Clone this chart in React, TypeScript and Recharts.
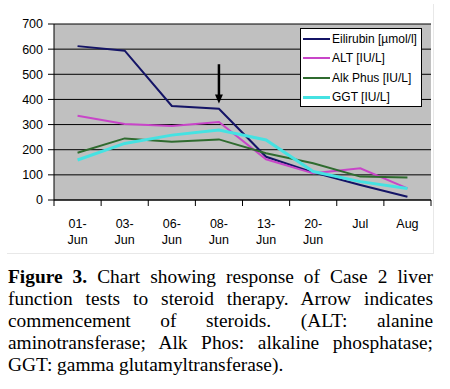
import { LineChart, Line, XAxis, YAxis, CartesianGrid, ReferenceLine } from 'recharts'

const dates = ['01-Jun', '03-Jun', '06-Jun', '08-Jun', '13-Jun', '20-Jun', 'Jul', 'Aug']
const bilirubin = [612, 594, 374, 363, 172, 110, 60, 13]
const alt = [335, 302, 294, 310, 162, 106, 126, 46]
const alkPhos = [188, 245, 232, 241, 186, 146, 93, 89]
const ggt = [159, 225, 258, 278, 239, 113, 73, 46]
const yTicks = [0, 100, 200, 300, 400, 500, 600, 700]

const series = [
  { key: 'bilirubin', name: 'Eilirubin [µmol/l]', color: '#141466', width: 2 },
  { key: 'alt', name: 'ALT [IU/L]', color: '#c845c8', width: 2 },
  { key: 'alkPhos', name: 'Alk Phus [IU/L]', color: '#2f6b2f', width: 2 },
  { key: 'ggt', name: 'GGT [IU/L]', color: '#45e2e2', width: 3 },
]

const data = dates.map((d, i) => ({
  date: d,
  bilirubin: bilirubin[i],
  alt: alt[i],
  alkPhos: alkPhos[i],
  ggt: ggt[i],
}))

const CHART_W = 440
const PLOT_LEFT = 54
const PLOT_RIGHT = 431
const band = (PLOT_RIGHT - PLOT_LEFT) / dates.length

function DateTick({ x, y, payload, index }: any) {
  const parts = String(payload.value).split('-')
  const lines = parts.length > 1 ? [parts[0] + '-', parts[1]] : [parts[0]]
  return (
    <g>
      <line x1={x - band / 2} y1={y} x2={x - band / 2} y2={y + 6} stroke="#000" />
      {index === dates.length - 1 && (
        <line x1={x + band / 2} y1={y} x2={x + band / 2} y2={y + 6} stroke="#000" />
      )}
      <text x={x} y={y + 28} textAnchor="middle" fontSize={12.5} fill="#000" fontFamily="Liberation Sans, Arial">
        {lines.map((l, i) => (
          <tspan key={i} x={x} dy={i === 0 ? 0 : 16}>{l}</tspan>
        ))}
      </text>
    </g>
  )
}

function ArrowShape(props: any) {
  const { x1, y1, x2, y2 } = props
  if (x1 == null) return null
  return (
    <g>
      <line x1={x1} y1={y1} x2={x2} y2={y2 - 6} stroke="#000" strokeWidth={2.5} />
      <path d={`M${x2 - 4},${y2 - 9} L${x2 + 4},${y2 - 9} L${x2},${y2} Z`} fill="#000" />
    </g>
  )
}

function LegendBox() {
  return (
    <div
      style={{
        position: 'absolute',
        left: 300,
        top: 28,
        width: 122,
        height: 79,
        border: '1px solid #000',
        background: '#fff',
        boxSizing: 'border-box',
        padding: '0 0 0 2px',
        fontFamily: 'Liberation Sans, Arial',
        fontSize: 12,
        color: '#000',
      }}
    >
      {series.map((s) => (
        <div key={s.key} style={{ display: 'flex', alignItems: 'center', height: 19.5 }}>
          <div style={{ width: 27, height: s.width, background: s.color, marginRight: 2 }} />
          <span style={{ whiteSpace: 'nowrap' }}>{s.name}</span>
        </div>
      ))}
    </div>
  )
}

const captionLines = [
  'Chart showing response of Case 2 liver',
  'function tests to steroid therapy. Arrow indicates',
  'commencement of steroids. (ALT: alanine',
  'aminotransferase; Alk Phos: alkaline phosphatase;',
  'GGT: gamma glutamyltransferase).',
]

export default function App() {
  return (
    <div style={{ position: 'absolute', left: 0, top: 0, width: 450, height: 389, background: '#fff' }}>
      <div
        style={{
          position: 'absolute',
          left: 7,
          top: 4,
          width: 426,
          height: 249,
          border: '1px solid #e8e8e8',
          borderLeft: 'none',
          borderTop: 'none',
        }}
      />
      <div style={{ position: 'absolute', left: 0, top: 0 }}>
        <LineChart width={CHART_W} height={260} data={data} margin={{ top: 24, right: CHART_W - PLOT_RIGHT, left: 0, bottom: 5 }}>
          <CartesianGrid vertical={false} stroke="#000" fill="#c0c0c0" />
          <XAxis
            dataKey="date"
            height={55}
            interval={0}
            padding={{ left: band / 2, right: band / 2 }}
            tickLine={false}
            tickSize={0}
            tickMargin={0}
            axisLine={{ stroke: '#000' }}
            tick={<DateTick />}
          />
          <YAxis
            width={PLOT_LEFT}
            domain={[0, 700]}
            ticks={yTicks}
            interval={0}
            tickSize={6}
            tickMargin={5}
            axisLine={{ stroke: '#000' }}
            tickLine={{ stroke: '#000' }}
            tick={{ fontSize: 12.5, fill: '#000', fontFamily: 'Liberation Sans, Arial' }}
          />
          {series.map((s) => (
            <Line
              key={s.key}
              dataKey={s.key}
              name={s.name}
              stroke={s.color}
              strokeWidth={s.width}
              dot={false}
              type="linear"
              isAnimationActive={false}
            />
          ))}
          <ReferenceLine
            segment={[
              { x: '08-Jun', y: 540 },
              { x: '08-Jun', y: 384 },
            ]}
            shape={<ArrowShape />}
          />
        </LineChart>
        <LegendBox />
      </div>
      <div
        style={{
          position: 'absolute',
          left: 8,
          top: 266,
          width: 425,
          fontFamily: 'Liberation Serif, Times New Roman, serif',
          fontSize: 19.4,
          lineHeight: '22px',
          color: '#000',
        }}
      >
        {captionLines.map((l, i) => (
          <div
            key={i}
            style={{
              textAlign: 'justify',
              textAlignLast: i === captionLines.length - 1 ? 'left' : 'justify',
              whiteSpace: 'nowrap',
            }}
          >
            {i === 0 && <b>Figure 3. </b>}
            {l}
          </div>
        ))}
      </div>
    </div>
  )
}
